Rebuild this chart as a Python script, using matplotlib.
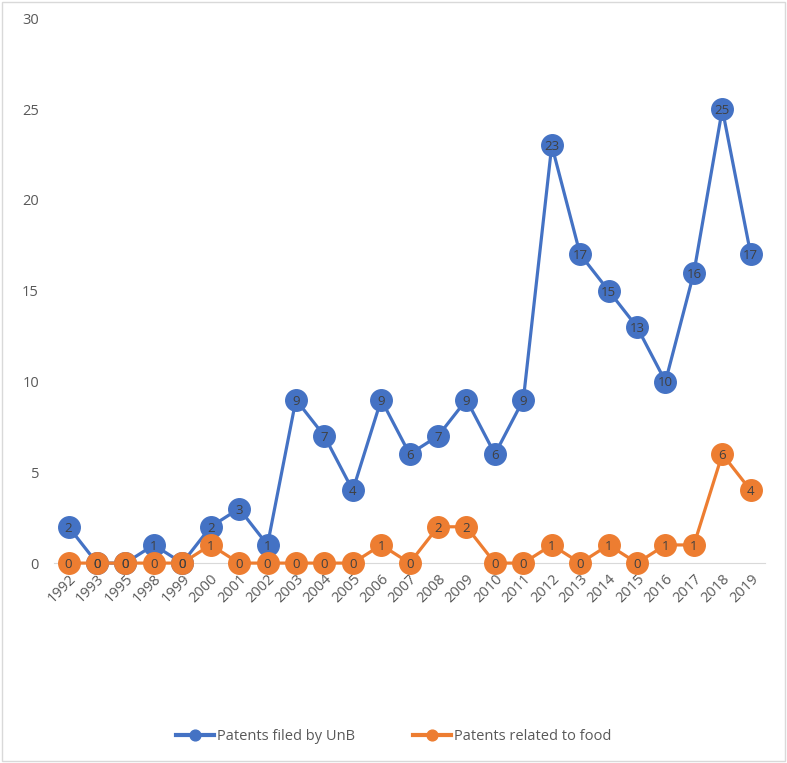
import matplotlib.pyplot as plt
import numpy as np

years = ["1992", "1993", "1995", "1998", "1999", "2000", "2001", "2002", "2003",
         "2004", "2005", "2006", "2007", "2008", "2009", "2010", "2011", "2012",
         "2013", "2014", "2015", "2016", "2017", "2018", "2019"]
unb = [2, 0, 0, 1, 0, 2, 3, 1, 9, 7, 4, 9, 6, 7, 9, 6, 9, 23, 17, 15, 13, 10, 16, 25, 17]
food = [0, 0, 0, 0, 0, 1, 0, 0, 0, 0, 0, 1, 0, 2, 2, 0, 0, 1, 0, 1, 0, 1, 1, 6, 4]

plt.rcParams['font.family'] = ['Open Sans', 'DejaVu Sans']

blue = "#4472C4"
orange = "#ED7D31"
txt = "#404040"

fig = plt.figure(figsize=(7.87, 7.63), dpi=100)
ax = fig.add_axes([0.069, 0.262, 0.903, 0.714])
x = np.arange(len(years))

for vals, col, lab in [(unb, blue, "Patents filed by UnB"), (food, orange, "Patents related to food")]:
    ax.plot(x, vals, color=col, lw=2.3, marker='o', ms=15.5, label=lab, zorder=3,
            clip_on=False)
    for xi, v in zip(x, vals):
        ax.text(xi, v, str(v), ha='center', va='center_baseline', fontsize=9.5,
                color=txt, zorder=4)

ax.set_xlim(-0.5, len(years) - 0.5)
ax.set_ylim(0, 30)
ax.set_yticks(range(0, 31, 5))
ax.set_xticks(x)
ax.set_xticklabels(years, rotation=45, ha='right', rotation_mode='anchor')
ax.tick_params(axis='both', length=0, labelsize=10.5, colors='#595959')
ax.tick_params(axis='y', pad=11)
ax.tick_params(axis='x', pad=6)
for s in ['top', 'right', 'left']:
    ax.spines[s].set_visible(False)
ax.spines['bottom'].set_color('#d9d9d9')

leg = fig.legend(loc='center', bbox_to_anchor=(0.5, 0.035), ncol=2, frameon=False,
                 fontsize=10.5, handlelength=2.6, handletextpad=0.2, columnspacing=4,
                 markerscale=0.5, labelcolor='#595959')
for h in leg.legend_handles:
    h.set_linewidth(3)

border = plt.Rectangle((0.002, 0.002), 0.996, 0.996, transform=fig.transFigure,
                       fill=False, edgecolor='#d9d9d9', lw=1)
fig.add_artist(border)

fig.savefig("out.png", dpi=100)
